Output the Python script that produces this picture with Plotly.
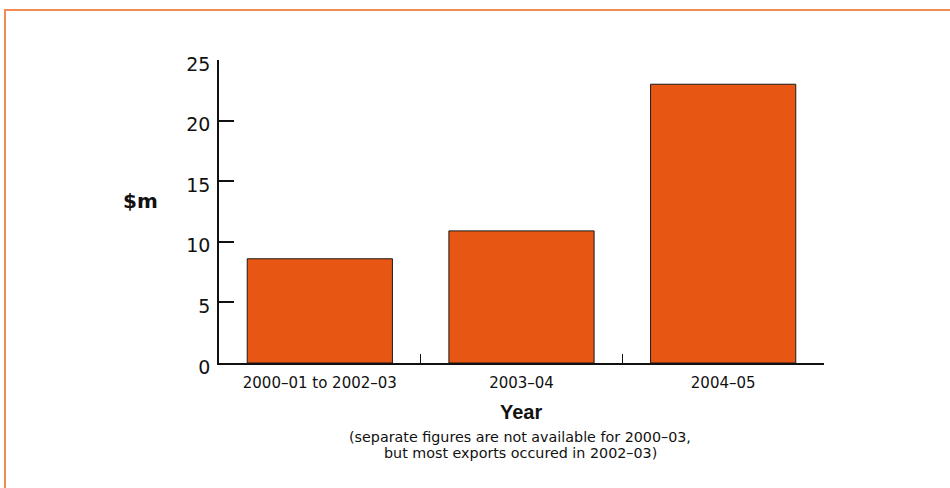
import plotly.graph_objects as go

# Export values by financial year ($ million)
years = ["2000–01 to 2002–03", "2003–04", "2004–05"]
values = [8.6, 10.9, 23.0]
y_ticks = [0, 5, 10, 15, 20, 25]
note_lines = [
    "(separate figures are not available for 2000–03,",
    "but most exports occured in 2002–03)",
]

BAR_COLOR = "#E85614"
FRAME_COLOR = "#F28A55"
FONT = "DejaVu Sans"
TITLE_FONT = "Liberation Sans"
INK = "#111111"

W, H = 950, 488
ML, MR, MT, MB = 219, 126, 60, 125
PW, PH = W - ML - MR, H - MT - MB


def px_x(px):
    return (px - ML) / PW


def px_y(py):
    return (H - MB - py) / PH


fig = go.Figure(
    go.Bar(
        x=years,
        y=values,
        width=0.72,
        marker=dict(color=BAR_COLOR, line=dict(color="#1a1a1a", width=1)),
        hoverinfo="x+y",
    )
)

fig.update_layout(
    width=W,
    height=H,
    margin=dict(l=ML, r=MR, t=MT, b=MB),
    paper_bgcolor="white",
    plot_bgcolor="white",
    showlegend=False,
    font=dict(family=FONT, color=INK),
)

fig.update_xaxes(
    type="category",
    range=[-0.5, 2.5],
    showline=True,
    linecolor=INK,
    linewidth=1.5,
    ticks="inside",
    tickson="boundaries",
    ticklen=9,
    tickwidth=1,
    tickcolor=INK,
    showgrid=False,
    tickfont=dict(size=15, family=FONT, color=INK),
    ticklabelstandoff=5,
    fixedrange=True,
)

fig.update_yaxes(
    range=[0, 25],
    tickvals=y_ticks,
    showline=True,
    linecolor=INK,
    linewidth=1.5,
    ticks="inside",
    ticklen=15,
    tickwidth=1.5,
    tickcolor=INK,
    showgrid=False,
    zeroline=False,
    tickfont=dict(size=19, family=FONT, color=INK),
    ticklabelstandoff=3,
    ticklabelshift=4,
    fixedrange=True,
)

# Axis titles as free text
fig.add_annotation(
    x=px_x(140), y=px_y(201), xref="paper", yref="paper",
    text="<b>$m</b>", showarrow=False, font=dict(size=20, family=FONT, color=INK),
    xanchor="center", yanchor="middle",
)
fig.add_annotation(
    x=px_x(521), y=px_y(412), xref="paper", yref="paper",
    text="<b>Year</b>", showarrow=False, font=dict(size=20, family=TITLE_FONT, color=INK),
    xanchor="center", yanchor="middle",
)
for line, py in zip(note_lines, [437, 453]):
    fig.add_annotation(
        x=px_x(520), y=px_y(py), xref="paper", yref="paper",
        text=line, showarrow=False, font=dict(size=14.3, family=FONT, color=INK),
        xanchor="center", yanchor="middle",
    )

# Orange frame around the panel
fig.add_shape(
    type="rect", xref="paper", yref="paper",
    x0=px_x(5), y0=px_y(500), x1=px_x(960), y1=px_y(10),
    line=dict(color=FRAME_COLOR, width=2), fillcolor="rgba(0,0,0,0)", layer="below",
)

fig.write_html("out.html")
